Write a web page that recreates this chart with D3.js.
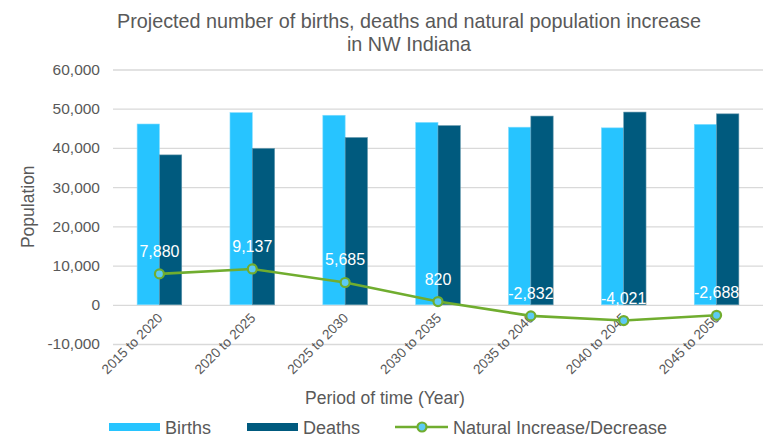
<!DOCTYPE html>
<html>
<head>
<meta charset="utf-8">
<script src="https://cdn.jsdelivr.net/npm/d3@7"></script>
<style>
  body { margin: 0; background: #fff; }
  text { font-family: "Liberation Sans", Arial, sans-serif; fill: #595959; }
</style>
</head>
<body>
<div id="chart"></div>
<script>
// chart data
var periods = ["2015 to 2020", "2020 to 2025", "2025 to 2030", "2030 to 2035", "2035 to 2040", "2040 to 2045", "2045 to 2050"];
var births = [46100, 49000, 48330, 46500, 45290, 45120, 46000];
var deaths = [38220, 39863, 42645, 45680, 48122, 49141, 48688];
var naturalChange = [7880, 9137, 5685, 820, -2832, -4021, -2688];
var yTicks = [-10000, 0, 10000, 20000, 30000, 40000, 50000, 60000];

var svgWidth = 768, svgHeight = 439;
var margin = { top: 69.5, right: 5, bottom: 95, left: 113 };
var width = svgWidth - margin.left - margin.right;
var height = svgHeight - margin.top - margin.bottom;

var birthColor = "#27c4ff", deathColor = "#005a7e", lineColor = "#70ad2f", markerFill = "#5ccaf5";
var tickFont = "15.5px", labelFont = "17.5px";

var svg = d3.select("#chart").append("svg")
    .attr("width", svgWidth)
    .attr("height", svgHeight);

var g = svg.append("g")
    .attr("transform", "translate(" + margin.left + "," + margin.top + ")");

// scales
var x = d3.scaleBand()
    .domain(periods)
    .range([0, width]);

var barWidth = 22.3;
var x1 = d3.scaleBand()
    .domain(["births", "deaths"])
    .range([x.bandwidth() / 2 - barWidth, x.bandwidth() / 2 + barWidth]);

var y = d3.scaleLinear()
    .domain([-10000, 60000])
    .range([height, 0]);

var fmt = function(d) { return d3.format(",")(d).replace("\u2212", "-"); };

// gridlines + y labels
var yAxis = d3.axisLeft(y)
    .tickValues(yTicks)
    .tickSize(-width)
    .tickPadding(13)
    .tickFormat(fmt);

var yAxisGroup = g.append("g")
    .attr("class", "y-axis")
    .call(yAxis);
yAxisGroup.select(".domain").remove();
yAxisGroup.selectAll(".tick line")
    .attr("stroke", "#d9d9d9")
    .attr("stroke-width", 1.3);
yAxisGroup.selectAll(".tick text")
    .attr("font-size", tickFont)
    .attr("font-family", null)
    .attr("fill", "#595959");

// bars
var groups = g.append("g").selectAll("g")
    .data(periods)
    .enter()
    .append("g")
    .attr("transform", function(d) { return "translate(" + x(d) + ",0)"; });

groups.append("rect")
    .attr("x", x1("births"))
    .attr("width", x1.bandwidth())
    .attr("y", function(d, i) { return y(births[i]); })
    .attr("height", function(d, i) { return y(0) - y(births[i]); })
    .attr("fill", birthColor)
    .attr("stroke", "#7fdcff")
    .attr("stroke-width", 0.6);

groups.append("rect")
    .attr("x", x1("deaths"))
    .attr("width", x1.bandwidth())
    .attr("y", function(d, i) { return y(deaths[i]); })
    .attr("height", function(d, i) { return y(0) - y(deaths[i]); })
    .attr("fill", deathColor)
    .attr("stroke", "#5e94aa")
    .attr("stroke-width", 0.6);

// x labels (rotated)
g.append("g").selectAll("text")
    .data(periods)
    .enter()
    .append("text")
    .attr("text-anchor", "end")
    .attr("font-size", "13.6px")
    .attr("transform", function(d) {
        return "translate(" + (x(d) + x.bandwidth() / 2 + 4) + "," + (y(0) + 14) + ") rotate(-45)";
    })
    .text(function(d) { return d; });

// natural increase line
var line = d3.line()
    .x(function(d, i) { return x(periods[i]) + x.bandwidth() / 2; })
    .y(function(d) { return y(d); });

g.append("path")
    .datum(naturalChange)
    .attr("fill", "none")
    .attr("stroke", lineColor)
    .attr("stroke-width", 2.6)
    .attr("d", line);

g.append("g").selectAll("circle")
    .data(naturalChange)
    .enter()
    .append("circle")
    .attr("cx", function(d, i) { return x(periods[i]) + x.bandwidth() / 2; })
    .attr("cy", function(d) { return y(d); })
    .attr("r", 4.5)
    .attr("fill", markerFill)
    .attr("stroke", lineColor)
    .attr("stroke-width", 2.2);

g.append("g").selectAll("text")
    .data(naturalChange)
    .enter()
    .append("text")
    .attr("text-anchor", "middle")
    .attr("font-size", "16px")
    .style("fill", "#ffffff")
    .attr("x", function(d, i) { return x(periods[i]) + x.bandwidth() / 2; })
    .attr("y", function(d) { return y(d) - 17; })
    .text(fmt);

// axis titles
svg.append("text")
    .attr("text-anchor", "middle")
    .attr("font-size", labelFont)
    .attr("transform", "translate(34," + (margin.top + height / 2) + ") rotate(-90)")
    .text("Population");

svg.append("text")
    .attr("text-anchor", "middle")
    .attr("x", 385)
    .attr("y", 404)
    .attr("font-size", labelFont)
    .text("Period of time (Year)");

// title
var title = svg.append("text")
    .attr("text-anchor", "middle")
    .attr("font-size", "19.8px");
title.append("tspan").attr("x", 409).attr("y", 28)
    .text("Projected number of births, deaths and natural population increase");
title.append("tspan").attr("x", 409).attr("y", 51)
    .text("in NW Indiana");

// legend
var legend = svg.append("g").attr("transform", "translate(0,427)");
legend.append("rect").attr("x", 109).attr("y", -4).attr("width", 51).attr("height", 8).attr("fill", birthColor);
legend.append("text").attr("x", 165).attr("y", 6.5).attr("font-size", "18px").text("Births");
legend.append("rect").attr("x", 247).attr("y", -4).attr("width", 51).attr("height", 8).attr("fill", deathColor);
legend.append("text").attr("x", 303).attr("y", 6.5).attr("font-size", "18px").text("Deaths");
legend.append("line").attr("x1", 395).attr("x2", 448).attr("y1", 0).attr("y2", 0)
    .attr("stroke", lineColor).attr("stroke-width", 2.6);
legend.append("circle").attr("cx", 422).attr("cy", 0).attr("r", 4.5)
    .attr("fill", markerFill).attr("stroke", lineColor).attr("stroke-width", 2.2);
legend.append("text").attr("x", 453).attr("y", 6.5).attr("font-size", "18px").text("Natural Increase/Decrease");
</script>
</body>
</html>
